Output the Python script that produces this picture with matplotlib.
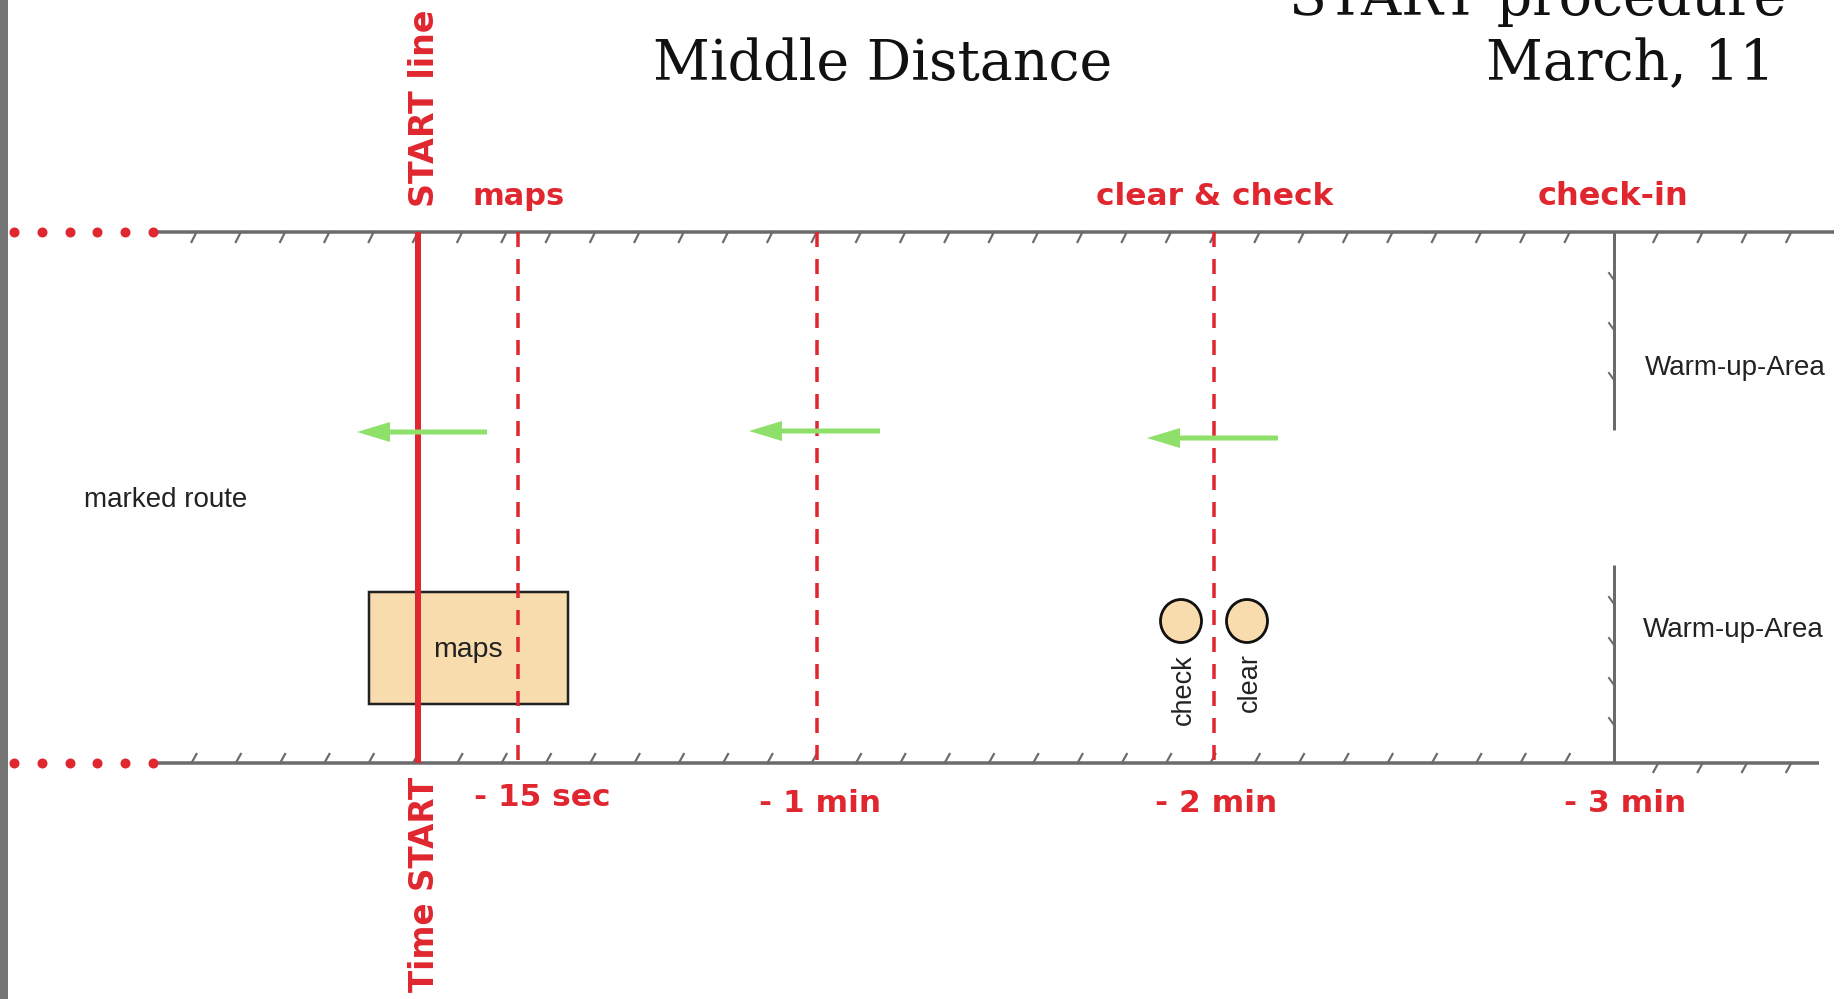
import matplotlib
matplotlib.use("Agg")
import matplotlib.pyplot as plt
import numpy as np
from matplotlib.patches import Rectangle, Ellipse

# canvas is drawn in pixel units of the 1843x999 reference
W, H = 1843, 999

RED = "#e0262e"
GREY = "#6b6b6b"
PEACH = "#f9dcae"
GREEN = "#8fe06a"

# track geometry
TOP_Y, BOTTOM_Y = 232, 763
TRACK_X0 = 153
TOP_X1, BOTTOM_X1 = 1834, 1819
START_X = 418

# checkpoints before the start line
CHECKPOINT_X = [518, 817, 1214, 1614]
CHECKPOINT_TIMES = ["- 15 sec", "- 1 min", "- 2 min", "- 3 min"]
TIME_LABEL_X = [542, 820, 1216, 1625]
TIME_LABEL_Y = [806, 812, 812, 812]
CHECKPOINT_TASKS = ["maps", "", "clear & check", "check-in"]
TASK_LABEL_X = [519, 817, 1215, 1613]
TASK_LABEL_SIZE = [22, 22, 22.5, 23]

# green "direction of travel" arrows: tail x, head x, y
ARROW_TAIL = [487, 880, 1278]
ARROW_HEAD = [357, 749, 1147]
ARROW_Y = [432, 431, 438]

# hatch ticks along the tape
TICK_X0, TICK_STEP, TICK_N = 194, 44.3, 37

# warm-up fences at check-in
FENCES = [(232, 430, [278, 328, 378]), (565, 763, [602, 643, 683, 723])]
WARMUP_LABELS = [("Warm-up-Area", 1645, 375), ("Warm-up-Area", 1643, 637)]

# clear/check stations
STATION_X = [1181, 1247]
STATION_Y = 621
STATION_NAMES = ["check", "clear"]
STATION_LABEL_X = [1184, 1250]
STATION_LABEL_Y = [690, 682]

PX = 0.72  # px -> pt at dpi 100

fig = plt.figure(figsize=(W / 100, H / 100), dpi=100)
ax = fig.add_axes([0, 0, 1, 1])
ax.set_xlim(0, W)
ax.set_ylim(H, 0)
ax.axis("off")

# grey strip at the left edge
ax.add_patch(Rectangle((0, 0), 8, H, color="#757575", lw=0))

# tape lines
ax.plot([TRACK_X0, TOP_X1], [TOP_Y, TOP_Y], color=GREY, lw=3.5 * PX, solid_capstyle="butt")
ax.plot([TRACK_X0, BOTTOM_X1], [BOTTOM_Y, BOTTOM_Y], color=GREY, lw=3.5 * PX, solid_capstyle="butt")

tick_x = TICK_X0 + TICK_STEP * np.arange(TICK_N)
for x in tick_x:
    if abs(x - CHECKPOINT_X[-1]) < 10:
        continue
    ax.plot([x + 2.5, x - 2.5], [TOP_Y, TOP_Y + 10], color=GREY, lw=2.2 * PX)
    if x < CHECKPOINT_X[-1]:
        ax.plot([x - 2.5, x + 2.5], [BOTTOM_Y, BOTTOM_Y - 9], color=GREY, lw=2.2 * PX)
    else:
        ax.plot([x + 2.5, x - 2.5], [BOTTOM_Y, BOTTOM_Y + 9], color=GREY, lw=2.2 * PX)

# red dotted continuation on the left
dot_x = np.linspace(14, TRACK_X0, 6)
for y in (TOP_Y, BOTTOM_Y):
    ax.plot(dot_x, [y] * len(dot_x), "o", color=RED, ms=10 * PX, mec="none")

# warm-up fences
fx = CHECKPOINT_X[-1]
for y0, y1, ticks in FENCES:
    ax.plot([fx, fx], [y0, y1], color=GREY, lw=3 * PX, solid_capstyle="butt")
    for ty in ticks:
        ax.plot([fx - 5, fx], [ty - 5, ty + 2], color=GREY, lw=2 * PX)

# dashed checkpoint lines
for x in CHECKPOINT_X[:-1]:
    ax.plot([x, x], [TOP_Y, BOTTOM_Y], color=RED, lw=3.5 * PX,
            linestyle=(0, (15 / 3.5, 12 / 3.5)))

# maps box, under the start line
ax.add_patch(Rectangle((369, 592), 199, 112, facecolor=PEACH, edgecolor="#222222",
                       lw=2.5 * PX, zorder=1))
ax.text(468, 657, "maps", fontsize=20.5, family="Liberation Sans", color="#222222",
        ha="center", va="baseline", zorder=3)

# start line
ax.plot([START_X, START_X], [TOP_Y, BOTTOM_Y], color=RED, lw=6 * PX,
        solid_capstyle="butt", zorder=2)

# green arrows
for x0, x1, y in zip(ARROW_TAIL, ARROW_HEAD, ARROW_Y):
    ax.arrow(x0, y, x1 - x0, 0, width=5, head_width=20, head_length=33,
             length_includes_head=True, color=GREEN, lw=0, zorder=3)

# clear / check stations
for x, name, lx, ly in zip(STATION_X, STATION_NAMES, STATION_LABEL_X, STATION_LABEL_Y):
    ax.add_patch(Ellipse((x, STATION_Y), 41, 43, facecolor=PEACH, edgecolor="#111111",
                         lw=2.8 * PX, zorder=3))
    ax.text(lx, ly, name, fontsize=19.5, family="Liberation Sans", color="#222222",
            rotation=90, ha="center", va="center")

# red labels
red_font = dict(family="DejaVu Sans", fontweight="bold", color=RED)
for txt, x, size in zip(CHECKPOINT_TASKS, TASK_LABEL_X, TASK_LABEL_SIZE):
    if txt:
        ax.text(x, 205, txt, fontsize=size, ha="center", va="baseline", **red_font)
for txt, x, y in zip(CHECKPOINT_TIMES, TIME_LABEL_X, TIME_LABEL_Y):
    ax.text(x, y, txt, fontsize=22.5, ha="center", va="baseline", **red_font)
ax.text(424, 108, "START line", fontsize=24, rotation=90, ha="center", va="center", **red_font)
ax.text(424, 884, "Time START", fontsize=23.5, rotation=90, ha="center", va="center", **red_font)

# black notes
ax.text(84, 507, "marked route", fontsize=20, family="Liberation Sans", color="#222222",
        ha="left", va="baseline")
for txt, x, y in WARMUP_LABELS:
    ax.text(x, y, txt, fontsize=20, family="Liberation Sans", color="#222222",
            ha="left", va="baseline")

# titles
serif = dict(family="DejaVu Serif", color="#111111", fontsize=40, va="baseline")
ax.text(653, 80, "Middle Distance", ha="left", **serif)
ax.text(1775, 80, "March, 11", ha="right", **serif)
ax.text(1786, 15, "START procedure", ha="right", **serif)

fig.savefig("out.png", dpi=100)
